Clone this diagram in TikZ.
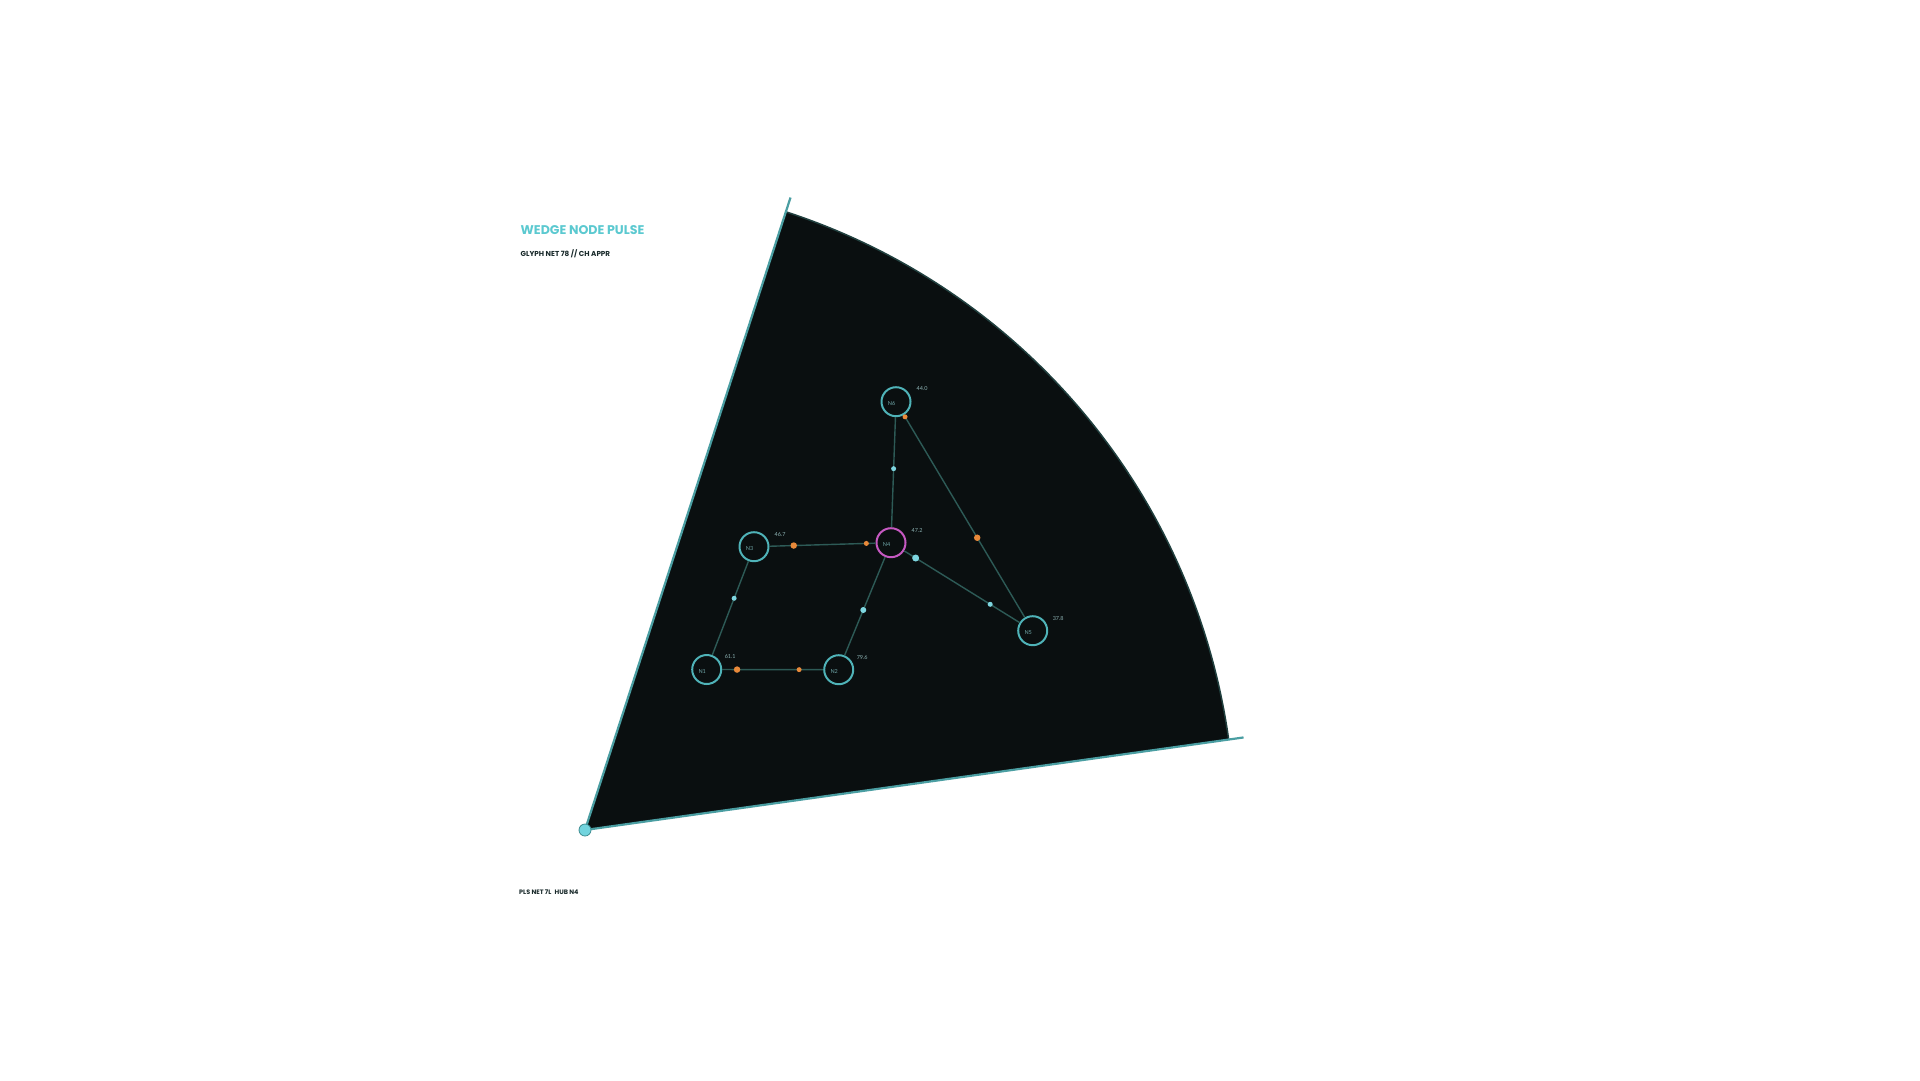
\documentclass[tikz,border=0pt]{standalone}
\usepackage{fontspec}
\setmainfont{Lato}
\newfontfamily\titlefont{Poppins}
\usetikzlibrary{calc}
\definecolor{wedgefill}{HTML}{0A0F10}
\definecolor{radialc}{HTML}{4A9EA2}
\definecolor{arcc}{HTML}{21403F}
\definecolor{ringc}{HTML}{4FB3B8}
\definecolor{hubc}{HTML}{C659C2}
\definecolor{edgec}{HTML}{2D5A56}
\definecolor{orangec}{HTML}{E8893A}
\definecolor{cyanc}{HTML}{7ED6E0}
\definecolor{nlabc}{HTML}{6FA6A8}
\definecolor{vlabc}{HTML}{8DB3B4}
\definecolor{titlec}{HTML}{5BC9D0}
\definecolor{darktext}{HTML}{18292A}
\definecolor{apexfill}{HTML}{72D4DE}
\definecolor{apexline}{HTML}{3C8C90}
\begin{document}
\begin{tikzpicture}[x=1pt,y=-1pt,
  nodering/.style={circle,draw=ringc,line width=2pt,minimum size=29pt,inner sep=0pt},
  hubring/.style={nodering,draw=hubc},
  nlab/.style={inner sep=0pt,text=nlabc,font=\fontsize{5.5}{6}\selectfont},
  vlab/.style={inner sep=0pt,text=vlabc,font=\fontsize{5.5}{6}\selectfont},
  edge/.style={draw=edgec,line width=1.4pt},
  odot/.style={circle,fill=orangec,inner sep=0pt,minimum size=#1},
  cdot/.style={circle,fill=cyanc,inner sep=0pt,minimum size=#1},
  radial/.style={draw=radialc,line width=2.2pt},
  arcline/.style={draw=arcc,line width=1.5pt}]
\useasboundingbox (0,0) rectangle (1920,1080);
\fill[white] (0,0) rectangle (1920,1080);
% wedge
\coordinate (apex) at (585,830);
\coordinate (arcA) at ($(apex)+(-72:650)$);
\coordinate (tipA) at ($(apex)+(-72:665)$);
\coordinate (tipB) at ($(apex)+(-8:665)$);
\fill[wedgefill] (apex) -- (arcA) arc[start angle=-72,end angle=-8,radius=650] -- cycle;
\draw[arcline] (arcA) arc[start angle=-72,end angle=-8,radius=650];
\draw[radial] (apex) -- (tipA);
\draw[radial] (apex) -- (tipB);
\node[circle,fill=apexfill,draw=apexline,line width=0.8pt,minimum size=12pt,inner sep=0pt] (apexdot) at (apex) {};
% nodes
\node[nodering] (n1) at (706.7,669.5) {};
\node[nodering] (n2) at (838.7,669.7) {};
\node[nodering] (n3) at (754,546.7) {};
\node[hubring] (n4) at (891,542.7) {};
\node[nodering] (n5) at (1032.7,630.7) {};
\node[nodering] (n6) at (896,401.7) {};
% edges
\draw[edge] (n1) -- (n2);
\draw[edge] (n1) -- (n3);
\draw[edge] (n3) -- (n4);
\draw[edge] (n2) -- (n4);
\draw[edge] (n4) -- (n5);
\draw[edge] (n6) -- (n4);
\draw[edge] (n6) -- (n5);
% pulses
\node[odot=6.5pt] (p12a) at ($(n1)!0.23!(n2)$) {};
\node[odot=5pt] (p12b) at ($(n1)!0.70!(n2)$) {};
\node[cdot=5pt] (p13) at ($(n1)!0.58!(n3)$) {};
\node[odot=6.5pt] (p34a) at ($(n3)!0.29!(n4)$) {};
\node[odot=5pt] (p34b) at ($(n3)!0.82!(n4)$) {};
\node[cdot=6pt] (p24) at ($(n2)!0.47!(n4)$) {};
\node[cdot=7pt] (p45a) at ($(n4)!0.174!(n5)$) {};
\node[cdot=5pt] (p45b) at ($(n4)!0.70!(n5)$) {};
\node[cdot=5pt] (p64) at ($(n6)!0.475!(n4)$) {};
\node[odot=5pt] (p65a) at ($(n6)!0.066!(n5)$) {};
\node[odot=6.5pt] (p65b) at ($(n6)!0.594!(n5)$) {};
% node labels
\foreach \n/\t in {n1/N1,n2/N2,n3/N3,n4/N4,n5/N5,n6/N6}{
  \node[nlab] (\n-t) at ($(\n)+(-4.5,2)$) {\t};
}
\node[vlab] (n1-v) at ($(n1)+(23.5,-12.5)$) {61.1};
\node[vlab] (n2-v) at ($(n2)+(23.5,-12.5)$) {79.6};
\node[vlab] (n3-v) at ($(n3)+(26,-12.5)$) {46.7};
\node[vlab] (n4-v) at ($(n4)+(26,-12.5)$) {47.2};
\node[vlab] (n5-v) at ($(n5)+(25.5,-12.5)$) {37.8};
\node[vlab] (n6-v) at ($(n6)+(26,-13)$) {44.0};
% texts
\node[anchor=base west,inner sep=0pt,text=titlec,font=\titlefont\bfseries\fontsize{12.6}{14}\selectfont] (title) at (520.5,234.3) {WEDGE NODE PULSE};
\node[anchor=base west,inner sep=0pt,text=darktext,font=\titlefont\bfseries\fontsize{7.2}{8}\selectfont] (subtitle) at (520.5,256.7) {GLYPH NET 78 // CH APPR};
\node[anchor=base west,inner sep=0pt,text=darktext,font=\titlefont\bfseries\fontsize{6.4}{7}\selectfont] (footer) at (519,894.3) {PLS NET 7L\enspace HUB N4};
\end{tikzpicture}
\end{document}
